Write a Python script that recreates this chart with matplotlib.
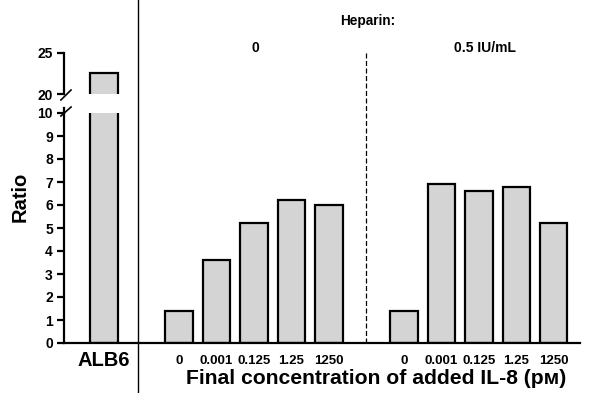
import matplotlib
matplotlib.use("Agg")
import matplotlib.pyplot as plt

plt.rcParams['font.family'] = ['Liberation Sans', 'DejaVu Sans']

# Data
ctrl_label = "ALB6"
ctrl_value = 22.6
conc_labels = ["0", "0.001", "0.125", "1.25", "1250"]
heparin_0 = [1.4, 3.6, 5.2, 6.2, 6.0]
heparin_05 = [1.4, 6.9, 6.6, 6.8, 5.2]
heparin_titles = ["0", "0.5 IU/mL"]

ctrl_pos = -2.0
pos0 = [0, 1, 2, 3, 4]
pos1 = [6, 7, 8, 9, 10]
bar_w = 0.73
face = "#d4d4d4"
lw = 1.6

fig = plt.figure(figsize=(5.94, 3.93), dpi=100)
W, H = 594, 393
axb = fig.add_axes([64 / W, 50 / H, 516 / W, 230 / H])
axt = fig.add_axes([64 / W, 299 / H, 516 / W, 41 / H], sharex=axb)
axt.patch.set_visible(False)
axb.patch.set_visible(False)

for ax in (axb, axt):
    ax.bar([ctrl_pos], [ctrl_value], width=bar_w, color=face, edgecolor="black", linewidth=lw)
    ax.bar(pos0, heparin_0, width=bar_w, color=face, edgecolor="black", linewidth=lw)
    ax.bar(pos1, heparin_05, width=bar_w, color=face, edgecolor="black", linewidth=lw)
    ax.spines['top'].set_visible(False)
    ax.spines['right'].set_visible(False)
    ax.spines['left'].set_linewidth(lw)
    ax.tick_params(axis='y', direction='out', length=5, width=lw, pad=3)

axb.set_xlim(-3.07, 10.7)
axb.set_ylim(0, 10)
axb.set_yticks(range(0, 11))
axb.set_yticklabels([str(v) for v in range(0, 11)], fontweight='bold', fontsize=10)
axb.spines['bottom'].set_linewidth(lw)

axt.set_ylim(20, 25)
axt.set_yticks([20, 25])
axt.set_yticklabels(["20", "25"], fontweight='bold', fontsize=10)
axt.spines['bottom'].set_visible(False)
axt.tick_params(axis='x', bottom=False, labelbottom=False)

# x ticks
axb.set_xticks(pos0 + pos1)
axb.set_xticklabels(conc_labels + conc_labels, fontweight='bold', fontsize=9.5)
axb.tick_params(axis='x', length=0, pad=8.5)

# control label
axb.text(ctrl_pos, -0.78, ctrl_label, ha='center', va='center', fontsize=14.5,
         fontweight='bold', transform=axb.transData)

# break marks
kw = dict(color='black', lw=1.2, clip_on=False)
axb.plot([-0.006, 0.0136], [0.987, 1.026], transform=axb.transAxes, **kw)
axb.plot([0, 0], [1.0, 1.02], transform=axb.transAxes, color='black', lw=lw, clip_on=False)
axt.plot([-0.006, 0.0136], [-0.146, 0.098], transform=axt.transAxes, **kw)

# separator lines
axb.axvline(-1.1, ymin=-50 / 230, ymax=343 / 230, color='black', lw=1.0, clip_on=False, zorder=5)
axb.axvline(5.0, ymin=0, ymax=(343 - 52) / 230, color='black', lw=0.9,
            linestyle=(0, (4, 2)), clip_on=False, zorder=5)

# labels
axb.set_ylabel("Ratio", fontsize=14.5, fontweight='bold')
axb.yaxis.set_label_coords(-0.067, 0.635)
fig.text(376 / W, 1 - 378 / H, "Final concentration of added IL-8 (pᴍ)", ha='center',
         va='center', fontsize=15.2, fontweight='bold')

fig.text(368 / W, 1 - 21 / H, "Heparin:", ha='center', va='center', fontsize=9.8, fontweight='bold')
fig.text(255 / W, 1 - 48 / H, heparin_titles[0], ha='center', va='center', fontsize=10, fontweight='bold')
fig.text(485 / W, 1 - 48 / H, heparin_titles[1], ha='center', va='center', fontsize=10, fontweight='bold')

fig.savefig("out.png", dpi=100)
